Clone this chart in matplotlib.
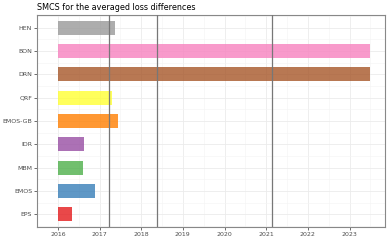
import numpy as np
import matplotlib.pyplot as plt

# methods, bottom to top
methods = ["EPS", "EMOS", "MBM", "IDR", "EMOS-GB", "QRF", "DRN", "BON", "HEN"]
start = [2016.0] * 9
end = [2016.33, 2016.88, 2016.61, 2016.62, 2017.45, 2017.31, 2023.48, 2023.48, 2017.37]
colors = ["#E41A1C", "#377EB8", "#4DAF4A", "#984EA3", "#FF7F00",
          "#FFFF33", "#A65628", "#F781BF", "#999999"]
vlines = [2017.22, 2018.37, 2021.14]
years = list(range(2016, 2024))

fig = plt.figure(figsize=(3.89, 2.40), dpi=100)
ax = fig.add_axes([37 / 389, 1 - 227 / 240, (385 - 37) / 389, (227 - 15) / 240])

y = np.arange(len(methods))
ax.barh(y, np.array(end) - np.array(start), left=start, height=0.6,
        color=colors, alpha=0.8, zorder=2)
for v in vlines:
    ax.axvline(v, color="#777777", lw=0.9, zorder=3)

ax.set_xlim(2015.62, 2023.85)
ax.set_ylim(-0.55, len(methods) - 0.45)
ax.set_xticks(years)
ax.set_xticks(np.arange(2015.5, 2024, 1.0), minor=True)
ax.set_yticks(y)
ax.set_yticklabels(methods)
ax.set_yticks(np.arange(-0.5, len(methods), 1.0), minor=True)
ax.grid(True, which="major", color="#ebebeb", lw=0.6, zorder=0)
ax.grid(True, which="minor", color="#f4f4f4", lw=0.4, zorder=0)
ax.tick_params(which="major", labelsize=4.5, length=2, width=0.5,
               color="#333333", labelcolor="#4d4d4d", pad=1.5)
ax.tick_params(which="minor", length=0)
for s in ax.spines.values():
    s.set_color("#888888")
    s.set_linewidth(0.8)
ax.set_axisbelow(True)

fig.text(37 / 389, 1 - 7 / 240, "SMCS for the averaged loss differences",
         fontsize=5.8, va="center", ha="left")

fig.savefig("out.png", dpi=100)
